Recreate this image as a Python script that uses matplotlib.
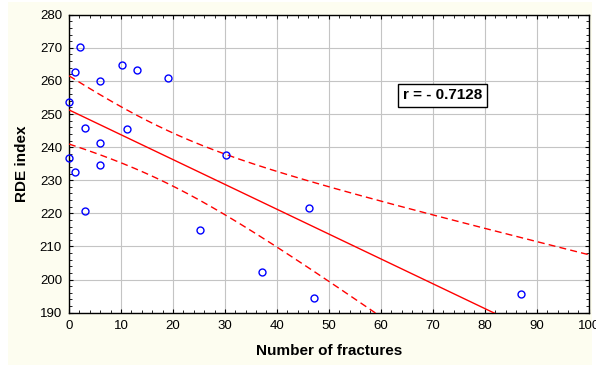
import numpy as np
import matplotlib
matplotlib.use("Agg")
import matplotlib.pyplot as plt
from matplotlib.patches import Rectangle
from matplotlib.ticker import MultipleLocator

plt.rcParams['font.family'] = ['Liberation Sans', 'DejaVu Sans']

# Observations: number of fractures vs RDE index
fractures = [2.1, 1.2, 0.0, 0.0, 1.2, 3.1, 3.1, 6.0, 6.0, 6.0,
             10.2, 13.1, 11.2, 19.0, 30.2, 25.2, 37.1, 46.2, 47.1, 86.9]
rde_index = [270.2, 262.7, 253.6, 236.7, 232.5, 245.7, 220.7, 260.0, 241.2, 234.6,
             264.8, 263.3, 245.4, 260.9, 237.6, 214.9, 202.2, 221.6, 194.5, 195.7]
r_label = "r = - 0.7128"

x = np.array(fractures)
y = np.array(rde_index)
n = len(x)

# Least-squares line with 95% confidence band for the mean
slope, intercept = np.polyfit(x, y, 1)
resid = y - (intercept + slope * x)
s = np.sqrt(np.sum(resid ** 2) / (n - 2))
t_crit = 2.101  # t(0.975, df=18)
xs = np.linspace(0, 100, 300)
fit = intercept + slope * xs
half = t_crit * s * np.sqrt(1 / n + (xs - x.mean()) ** 2 / np.sum((x - x.mean()) ** 2))

fig = plt.figure(figsize=(5.96, 3.69), dpi=100, facecolor='white')
fig.patches.append(Rectangle((8 / 596, 4 / 369), 584 / 596, 363 / 369,
                             transform=fig.transFigure, facecolor='#fdfdf0',
                             edgecolor='none', zorder=-1))
ax = fig.add_axes([69 / 596, 1 - 312.7 / 369, 519.7 / 596, 298 / 369])
ax.set_facecolor('white')

ax.plot(xs, fit, color='red', lw=1.0, zorder=3)
ax.plot(xs, fit + half, color='red', lw=1.0, ls=(0, (5, 3)), zorder=3)
ax.plot(xs, fit - half, color='red', lw=1.0, ls=(0, (5, 3)), zorder=3)
ax.plot(x, y, 'o', ms=5, mfc='none', mec='#0000ff', mew=1.0, zorder=4, clip_on=False)

ax.set_xlim(0, 100)
ax.set_ylim(190, 280)
ax.xaxis.set_major_locator(MultipleLocator(10))
ax.yaxis.set_major_locator(MultipleLocator(10))
ax.xaxis.set_minor_locator(MultipleLocator(2))
ax.yaxis.set_minor_locator(MultipleLocator(2))
ax.grid(True, which='major', color='#c4c4c4', lw=0.8, zorder=0)
ax.set_axisbelow(True)
ax.tick_params(which='both', direction='in', top=True, right=True,
               labelsize=9.5, colors='black')
ax.tick_params(axis='x', which='major', pad=5)
ax.tick_params(axis='y', which='major', pad=5)
ax.tick_params(which='major', length=3, width=0.8)
ax.tick_params(which='minor', length=2, width=0.6)
for sp in ax.spines.values():
    sp.set_linewidth(1.0)
    sp.set_color('black')

ax.set_xlabel('Number of fractures', fontsize=11, fontweight='bold', labelpad=9)
ax.set_ylabel('RDE index', fontsize=11, fontweight='bold', labelpad=8)

ax.text(71.9, 255.7, r_label, fontsize=11, fontweight='bold', ha='center', va='center',
        bbox=dict(boxstyle='square,pad=0.3', facecolor='white', edgecolor='black', lw=1.0),
        zorder=5)

fig.savefig('out.png', dpi=100, facecolor=fig.get_facecolor())
